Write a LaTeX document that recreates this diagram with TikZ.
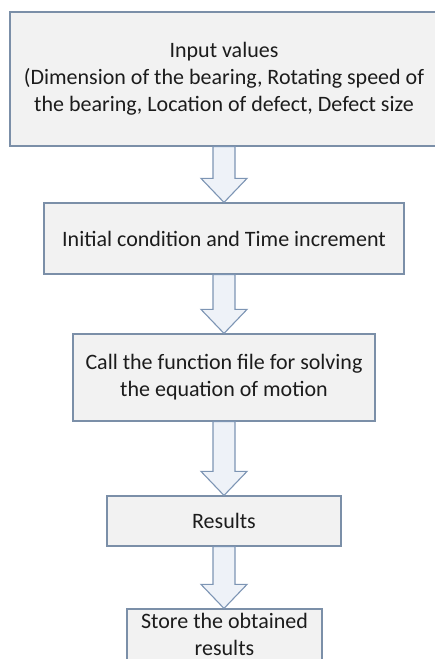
\documentclass[tikz,border=0pt]{standalone}
\usepackage{fontspec}
\setmainfont{Carlito}
\usetikzlibrary{calc}

\definecolor{boxfill}{HTML}{F2F2F2}
\definecolor{boxline}{HTML}{7B8FA8}
\definecolor{arrowfill}{HTML}{EEF2F8}
\definecolor{arrowline}{HTML}{7D95B4}
\definecolor{inktext}{HTML}{1C1C1C}

\tikzset{
  stepbox/.style={draw=boxline, fill=boxfill, line width=1.2pt, inner sep=0pt,
    align=center, font=\fontsize{22}{27}\selectfont, text=inktext},
  flowarrow/.style={draw=arrowline, fill=arrowfill, line width=1.1pt, line join=miter},
}

% Hollow block arrow from the bottom of one box to the top of the next
\newcommand{\flowstep}[2]{%
  \draw[flowarrow] let \p1=(#1.south), \p2=(#2.north) in
    (\x1-11pt,\y1) -- (\x1-11pt,\y2+24pt) -- (\x1-23pt,\y2+24pt) -- (\x1,\y2)
    -- (\x1+23pt,\y2+24pt) -- (\x1+11pt,\y2+24pt) -- (\x1+11pt,\y1) -- cycle;}

\begin{document}
\begin{tikzpicture}[x=1pt,y=-1pt]
  \useasboundingbox (0,0) rectangle (434,659);

  \node[stepbox, minimum width=428pt, minimum height=134pt] (inp) at (224,79)
    {Input values\\(Dimension of the bearing, Rotating speed of\\the bearing, Location of defect, Defect size};
  \node[stepbox, minimum width=360pt, minimum height=71pt] (init) at (224,238.5)
    {Initial condition and Time increment};
  \node[stepbox, minimum width=302pt, minimum height=87pt] (solve) at (224,377.5)
    {Call the function file for solving\\the equation of motion};
  \node[stepbox, minimum width=234pt, minimum height=50pt] (res) at (224,521)
    {Results};
  \node[stepbox, minimum width=195pt, minimum height=51pt] (store) at (224.5,634.5)
    {Store the obtained\\results};

  \flowstep{inp}{init}
  \flowstep{init}{solve}
  \flowstep{solve}{res}
  \flowstep{res}{store}
\end{tikzpicture}
\end{document}
